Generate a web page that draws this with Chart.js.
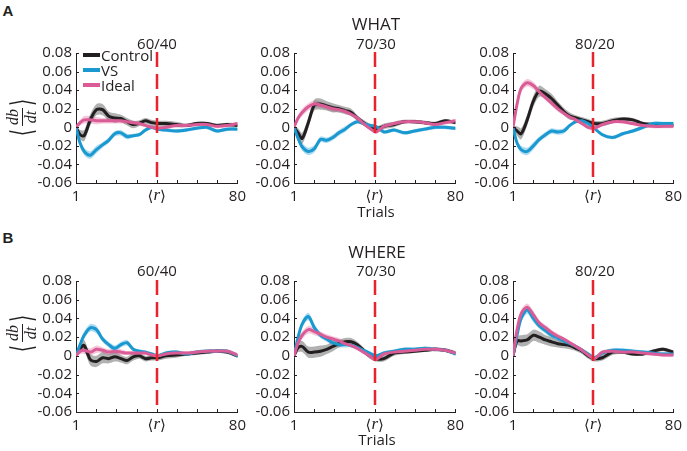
<!DOCTYPE html>
<html><head><meta charset="utf-8">
<script src="https://cdn.jsdelivr.net/npm/chart.js@4.4.0/dist/chart.umd.min.js"></script>
<style>
body{margin:0;width:687px;height:451px;background:#fff;position:relative;overflow:hidden;font-family:'Open Sans',sans-serif;color:#231f20}
canvas{position:absolute}
.t{position:absolute;white-space:nowrap;transform:translate(-50%,-50%);font-size:15px;line-height:1}
.l{position:absolute;white-space:nowrap;transform:translate(0,-50%);font-size:15px;line-height:1}
.big{font-size:17px}
.lab{font-weight:bold;font-family:'Liberation Sans',Arial,sans-serif;font-size:15px}
.sw{position:absolute;width:17px;height:4px;transform:translate(0,-50%)}
.ylab{position:absolute;transform:translate(-50%,-50%) rotate(-90deg);display:flex;align-items:center;font-family:'Liberation Serif',serif;color:#231f20}
.br{font-family:'DejaVu Sans',sans-serif;font-size:30px;transform:scaleX(0.6);display:inline-block;line-height:1;font-weight:200}
.frac{display:inline-flex;flex-direction:column;align-items:center;font-style:italic;font-size:16px;line-height:1.0}
.num{border-bottom:1.2px solid #231f20;padding:0 1px 1px}
</style></head><body>

<canvas id="a1" width="221" height="167" style="left:30px;top:40px"></canvas>
<canvas id="a2" width="221" height="167" style="left:248px;top:40px"></canvas>
<canvas id="a3" width="220" height="167" style="left:467px;top:40px"></canvas>
<canvas id="b1" width="221" height="168" style="left:30px;top:268px"></canvas>
<canvas id="b2" width="221" height="168" style="left:248px;top:268px"></canvas>
<canvas id="b3" width="220" height="168" style="left:467px;top:268px"></canvas>

<div class="t lab" style="left:8px;top:10px">A</div>
<div class="t lab" style="left:8px;top:237px">B</div>
<div class="t big" style="left:376px;top:23px" id="rowA"></div>
<div class="t big" style="left:377px;top:251px" id="rowB"></div>
<div class="t" style="left:157px;top:43px" id="pa1"></div>
<div class="t" style="left:376px;top:43px" id="pa2"></div>
<div class="t" style="left:595px;top:43px" id="pa3"></div>
<div class="t" style="left:157px;top:270px" id="pb1"></div>
<div class="t" style="left:376px;top:270px" id="pb2"></div>
<div class="t" style="left:595px;top:270px" id="pb3"></div>
<div class="t" style="left:376px;top:211px">Trials</div>
<div class="t" style="left:377px;top:439px">Trials</div>

<div class="ylab" style="left:22px;top:117px"><span class="br">⟨</span><span class="frac"><span class="num">db</span><span>dt</span></span><span class="br">⟩</span></div>
<div class="ylab" style="left:22px;top:333px"><span class="br">⟨</span><span class="frac"><span class="num">db</span><span>dt</span></span><span class="br">⟩</span></div>

<div id="legend"></div>

<script>
// ---------- data ----------
const trials = [1,3,5,8,11,14,17,20,23,26,29,32,35,38,41,45,50,55,60,65,70,75,80];
const xTickTrials = [1,10.875,20.75,30.625,40.5,50.375,60.25,70.125,80];
const xTickLabels = ['1','','','','','','','','80'];
const rTrial = 40.5;
const rLabel = ['⟨','r','⟩'];
const rowTitles = ['WHAT','WHERE'];
const panelTitles = ['60/40','70/30','80/20'];
const seriesNames = ['Control','VS','Ideal'];

// WHAT
const whatControl6040 = [0,-0.008,-0.009,0.008,0.019,0.019,0.012,0.010,0.0095,0.006,0.003,0.0045,0.007,0.005,0.004,0.004,0.003,0.002,0.004,0.004,0.002,0.003,0.002];
const whatVS6040      = [0,-0.017,-0.026,-0.030,-0.024,-0.019,-0.014,-0.007,-0.006,-0.010,-0.009,-0.008,-0.003,0.000,-0.002,-0.003,-0.004,-0.003,-0.001,0.000,-0.004,-0.002,-0.002];
const whatIdeal6040   = [0,0.005,0.008,0.008,0.007,0.007,0.007,0.007,0.007,0.006,0.005,0.004,0.002,0.000,-0.001,0.000,0.002,0.002,0.003,0.003,0.001,0.002,0.004];
const whatControl7030 = [0,-0.006,-0.012,0.005,0.024,0.025,0.023,0.021,0.020,0.018,0.016,0.010,0.005,0.001,-0.002,0.001,0.003,0.006,0.006,0.005,0.004,0.007,0.005];
const whatVS7030      = [0,-0.012,-0.021,-0.026,-0.023,-0.013,-0.014,-0.011,-0.006,-0.002,0.003,0.006,0.004,0.002,0.001,-0.005,-0.003,-0.006,-0.004,-0.002,0.000,0.000,-0.001];
const whatIdeal7030   = [0,0.010,0.016,0.022,0.025,0.024,0.022,0.020,0.019,0.017,0.014,0.010,0.004,-0.001,-0.005,0.001,0.004,0.006,0.006,0.005,0.003,0.005,0.007];
const whatControl8020 = [0,-0.004,-0.007,0.008,0.028,0.039,0.036,0.031,0.024,0.017,0.012,0.010,0.008,0.006,0.004,0.004,0.007,0.009,0.008,0.004,0.003,0.002,0.002];
const whatVS8020      = [0,-0.017,-0.024,-0.026,-0.020,-0.013,-0.008,-0.004,-0.005,-0.004,0.002,0.006,0.007,0.004,-0.001,-0.008,-0.011,-0.007,-0.004,0.000,0.004,0.004,0.004];
const whatIdeal8020   = [0,0.025,0.042,0.048,0.045,0.038,0.032,0.026,0.020,0.015,0.011,0.008,0.004,0.000,-0.001,0.003,0.006,0.006,0.004,0.002,0.001,0.001,0.001];
// WHERE
const whereControl6040 = [0,0.008,0.011,-0.004,-0.006,-0.002,-0.003,-0.001,-0.003,-0.005,-0.001,0.000,-0.003,-0.002,-0.002,0.000,0.001,0.002,0.003,0.004,0.005,0.004,0.000];
const whereVS6040      = [0,0.012,0.022,0.030,0.028,0.018,0.012,0.008,0.012,0.014,0.007,0.005,0.004,0.002,0.000,0.003,0.004,0.002,0.004,0.005,0.005,0.005,0.000];
const whereIdeal6040   = [0,0.005,0.006,0.004,0.007,0.006,0.004,0.005,0.004,0.003,0.003,0.003,0.003,0.001,0.000,0.002,0.003,0.003,0.004,0.005,0.005,0.005,0.001];
const whereControl7030 = [0,0.009,0.010,0.004,0.004,0.005,0.007,0.010,0.013,0.015,0.015,0.012,0.006,0.000,-0.003,-0.003,0.003,0.004,0.005,0.006,0.007,0.006,0.003];
const whereVS7030      = [0,0.020,0.034,0.042,0.030,0.022,0.018,0.014,0.012,0.012,0.011,0.009,0.006,0.003,0.000,0.003,0.005,0.007,0.007,0.008,0.007,0.006,0.002];
const whereIdeal7030   = [0,0.014,0.022,0.028,0.026,0.023,0.020,0.018,0.016,0.013,0.011,0.008,0.004,0.000,-0.004,0.002,0.004,0.005,0.006,0.007,0.007,0.006,0.003];
const whereControl8020 = [0,0.016,0.016,0.017,0.022,0.020,0.017,0.015,0.013,0.012,0.011,0.008,0.005,0.000,-0.003,-0.002,0.004,0.004,0.002,0.002,0.005,0.007,0.004];
const whereVS8020      = [0,0.022,0.040,0.049,0.040,0.032,0.027,0.022,0.019,0.016,0.013,0.010,0.006,0.002,-0.002,0.003,0.006,0.006,0.005,0.004,0.003,0.002,0.002];
const whereIdeal8020   = [0,0.028,0.045,0.052,0.044,0.035,0.030,0.025,0.021,0.018,0.014,0.010,0.006,0.001,-0.003,0.004,0.005,0.004,0.004,0.003,0.002,0.001,0.001];
// shaded error half-widths
const controlErr = [0.001,0.005,0.006,0.006,0.006,0.006,0.005,0.005,0.004,0.004,0.004,0.003,0.003,0.003,0.003,0.003,0.003,0.002,0.002,0.002,0.002,0.002,0.002];
const vsErr      = [0.001,0.003,0.004,0.004,0.004,0.003,0.003,0.003,0.003,0.003,0.002,0.002,0.002,0.002,0.002,0.002,0.002,0.002,0.002,0.002,0.002,0.002,0.002];
const idealErr   = [0.001,0.003,0.004,0.004,0.004,0.003,0.003,0.003,0.003,0.002,0.002,0.002,0.002,0.002,0.002,0.002,0.002,0.002,0.002,0.002,0.002,0.002,0.002];

// ---------- styles ----------
const AXIS = '#231f20';
const lineColors = ['#231f20','#1a98d0','#d95c96'];
const bandColors = ['rgba(60,60,60,0.4)','rgba(70,175,225,0.45)','rgba(236,130,175,0.45)'];
const lineOrder = [3,2,1];
const TICKFONT = {family:'Open Sans', size:15};

document.getElementById('rowA').textContent = rowTitles[0];
document.getElementById('rowB').textContent = rowTitles[1];
['a','b'].forEach(r=>panelTitles.forEach((p,i)=>document.getElementById('p'+r+(i+1)).textContent=p));

// legend
const lg = document.getElementById('legend');
seriesNames.forEach((n,i)=>{
  const y = [55,70,85][i];
  const sw = document.createElement('div'); sw.className='sw';
  sw.style.left='83px'; sw.style.top=y+'px'; sw.style.background=lineColors[i];
  const tx = document.createElement('div'); tx.className='l';
  tx.style.left='101px'; tx.style.top=y+'px'; tx.textContent=n;
  lg.appendChild(sw); lg.appendChild(tx);
});

const pts = arr => trials.map((t,i)=>({x:t,y:arr[i]}));
const ptsOff = (arr,err,s) => trials.map((t,i)=>({x:t,y:arr[i]+s*err[i]}));

const decor = {
  id:'decor',
  afterDatasetsDraw(chart){
    const {ctx, chartArea:a, scales:{x}} = chart;
    ctx.save();
    ctx.strokeStyle = '#e8232b'; ctx.lineWidth = 2.5; ctx.setLineDash([15,7]);
    const px = Math.round(x.getPixelForValue(rTrial));
    ctx.beginPath(); ctx.moveTo(px, a.top-1); ctx.lineTo(px, a.bottom); ctx.stroke();
    ctx.restore();
  },
  afterDraw(chart){
    const {ctx, chartArea:a, scales:{x,y}} = chart;
    ctx.save(); ctx.strokeStyle = AXIS; ctx.lineWidth = 1;
    ctx.beginPath();
    y.ticks.forEach(t=>{const py=Math.round(y.getPixelForValue(t.value))+0.5; ctx.moveTo(a.left,py); ctx.lineTo(a.left+3,py);});
    x.ticks.forEach(t=>{const px=Math.round(x.getPixelForValue(t.value))+0.5; ctx.moveTo(px,a.bottom); ctx.lineTo(px,a.bottom-3);});
    ctx.stroke();
    const cx = x.getPixelForValue(rTrial), cy = a.bottom + 14;
    const fonts = ['15px "DejaVu Sans"','italic 17px "Liberation Serif"','15px "DejaVu Sans"'];
    const w = rLabel.map((s,i)=>{ctx.font=fonts[i]; return ctx.measureText(s).width;});
    let xx = cx - (w[0]+w[1]+w[2])/2;
    ctx.fillStyle = AXIS; ctx.textBaseline='middle'; ctx.textAlign='left';
    rLabel.forEach((s,i)=>{ctx.font=fonts[i]; ctx.fillText(s, xx, cy + (i===1?-1:0)); xx += w[i];});
    ctx.restore();
  }
};

function mk(id, series){
  const datasets = [];
  const errs = [controlErr, vsErr, idealErr];
  series.forEach((s,k)=>{
    datasets.push({data:ptsOff(s,errs[k],-1), borderWidth:0, pointRadius:0, fill:false, order:10+k, tension:0.3});
    datasets.push({data:ptsOff(s,errs[k],1), borderWidth:0, pointRadius:0, fill:'-1', backgroundColor:bandColors[k], order:10+k, tension:0.3});
  });
  series.forEach((s,k)=>{
    datasets.push({data:pts(s), borderColor:lineColors[k], borderWidth:3, pointRadius:0, fill:false, order:lineOrder[k], tension:0.3, borderJoinStyle:'round', borderCapStyle:'round'});
  });
  new Chart(document.getElementById(id), {
    type:'line',
    data:{datasets},
    options:{
      responsive:false, animation:false,
      layout:{padding:{top:10,right:10,left:0,bottom:0}},
      plugins:{legend:{display:false}, tooltip:{enabled:false}},
      scales:{
        x:{type:'linear', min:1, max:80,
          afterBuildTicks: sc => { sc.ticks = xTickTrials.map(v=>({value:v})); },
          ticks:{autoSkip:false, maxRotation:0, padding:5, color:AXIS, font:TICKFONT,
            callback:(v,i)=>xTickLabels[i]},
          grid:{display:false, drawTicks:false},
          border:{display:true, color:AXIS, width:1},
          afterFit: sc => { sc.height = 24; }
        },
        y:{min:-0.06, max:0.08,
          ticks:{stepSize:0.02, autoSkip:false, padding:4, color:AXIS, font:TICKFONT,
            callback:v => Math.abs(v)<1e-9 ? '0' : v.toFixed(2)},
          grid:{display:false, drawTicks:false},
          border:{display:true, color:AXIS, width:1},
          afterFit: sc => { sc.width = 46; }
        }
      }
    },
    plugins:[decor]
  });
}

mk('a1',[whatControl6040, whatVS6040, whatIdeal6040]);
mk('a2',[whatControl7030, whatVS7030, whatIdeal7030]);
mk('a3',[whatControl8020, whatVS8020, whatIdeal8020]);
mk('b1',[whereControl6040, whereVS6040, whereIdeal6040]);
mk('b2',[whereControl7030, whereVS7030, whereIdeal7030]);
mk('b3',[whereControl8020, whereVS8020, whereIdeal8020]);
</script>
</body></html>
